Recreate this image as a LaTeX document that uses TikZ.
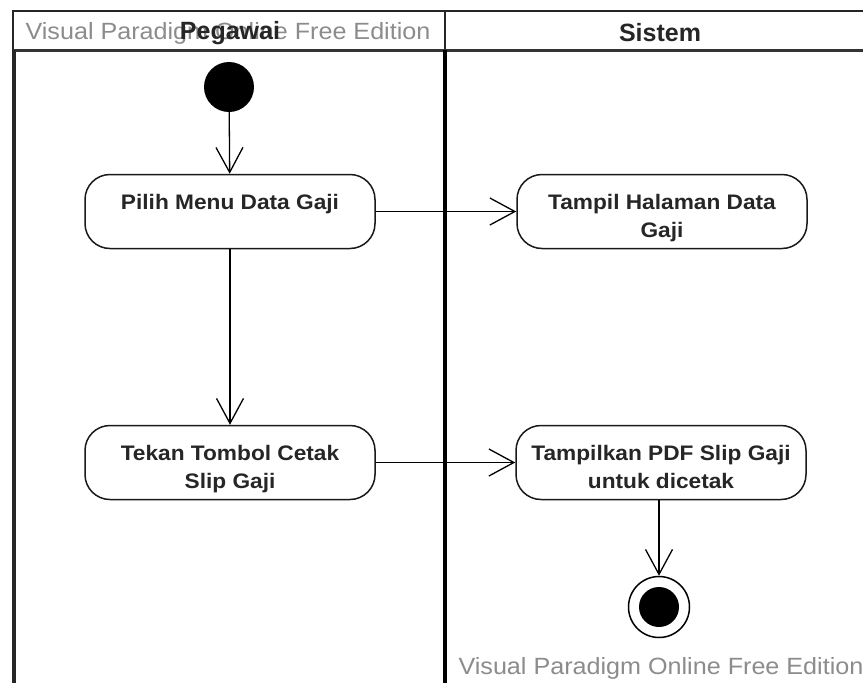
\documentclass[tikz,border=0pt]{standalone}
\usepackage{fontspec}
\setmainfont{Liberation Sans}
\newfontfamily\nodefont[FakeStretch=1.08]{Liberation Sans}
\newfontfamily\wmfont[FakeStretch=1.07]{Liberation Sans}
\usetikzlibrary{arrows.meta}
\definecolor{wmgray}{HTML}{8C8C8C}
\newcommand\twoline[2]{\raisebox{-6pt}[\height][\depth]{\begin{tabular}{@{}c@{}}#1\\#2\end{tabular}}}
\tikzset{
  activity/.style={draw=black!90, line width=1.5pt, rounded corners=25pt,
    minimum width=290pt, minimum height=74pt, inner sep=0pt,
    font=\nodefont\bfseries\fontsize{21}{28}\selectfont, text=black!85},
  flow/.style={line width=1.3pt, -{Straight Barb[length=25pt,width=27pt,line width=1.3pt]}},
  header/.style={font=\bfseries\fontsize{25}{28}\selectfont, text=black!85},
  watermark/.style={font=\wmfont\fontsize{23.5}{26}\selectfont, text=wmgray},
  frame/.style={line width=2pt, draw=black!85},
}
\begin{document}
\begin{tikzpicture}[x=1pt,y=-1pt]
\useasboundingbox (0,0) rectangle (863,683);
\fill[white] (0,0) rectangle (863,683);
% swimlane frame
\draw[frame] (13,50) -- (13,11) -- (863,11);
\draw[frame] (445,11) -- (445,50);
\draw[line width=3pt, draw=black!80] (13,50) -- (863,50);
\draw[line width=3.5pt, draw=black!85] (14,50) -- (14,683);
\draw[line width=4pt, draw=black] (445,50) -- (445,683);
% header texts
\node[watermark] (wm1) at (228,33) {Visual Paradigm Online Free Edition};
\node[header] (lane1) at (230,33) {Pegawai};
\node[header] (lane2) at (660,33) {Sistem};
% nodes
\node[circle, fill=black, minimum size=50pt, inner sep=0pt] (start) at (229,87) {};
\node[activity] (a1) at (230,211.5) {\twoline{Pilih Menu Data Gaji}{\mbox{}}};
\node[activity] (a2) at (662,211.5) {\twoline{Tampil Halaman Data}{Gaji}};
\node[activity] (a3) at (230,462.5) {\twoline{Tekan Tombol Cetak}{Slip Gaji}};
\node[activity] (a4) at (661,462.5) {\twoline{Tampilkan PDF Slip Gaji}{untuk dicetak}};
\node[circle, draw=black, line width=1.5pt, minimum size=61pt, inner sep=0pt] (end) at (659,607) {};
\node[circle, fill=black, minimum size=40pt, inner sep=0pt] (endin) at (end.center) {};
% flows
\draw[flow] (start) -- (a1);
\draw[flow] (a1) -- (a3);
\draw[flow] (a1) -- (a2);
\draw[flow] (a3) -- (a4);
\draw[flow] (a4.south -| end.north) -- (end.north);
% bottom watermark
\node[watermark, anchor=west] (wm2) at (455,668) {Visual Paradigm Online Free Edition};
\end{tikzpicture}
\end{document}
